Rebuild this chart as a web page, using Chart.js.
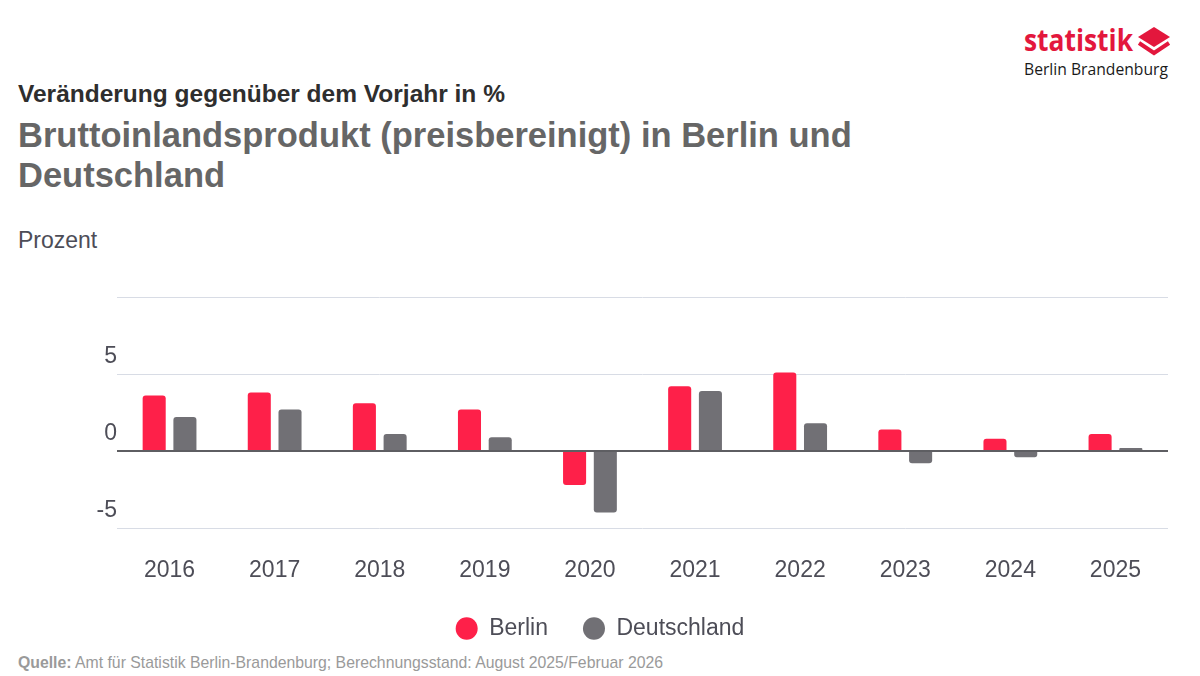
<!DOCTYPE html>
<html lang="de">
<head>
<meta charset="utf-8">
<script src="https://cdn.jsdelivr.net/npm/chart.js@4.4.1/dist/chart.umd.min.js"></script>
<style>
  html, body { margin: 0; padding: 0; background: #fff; overflow: hidden; }
  body { width: 1200px; height: 676px; position: relative; font-family: "Liberation Sans", Arial, sans-serif; }
  .txt { position: absolute; left: 18px; white-space: nowrap; }
  #unter { top: 82px; font-size: 24.5px; line-height: 24px; font-weight: bold; color: #2e2e2e; }
  #titel { top: 115px; font-size: 34.5px; line-height: 40px; font-weight: bold; color: #666666; }
  #prozent { top: 229px; font-size: 23px; line-height: 22px; color: #4d4d57; }
  #quelle { top: 654px; font-size: 17px; line-height: 17px; color: #9a9a9a; transform-origin: 0 0; }
  #logo { position: absolute; left: 1024px; top: 23px; width: 150px; }
  #logo .stat { font-family: "Open Sans", sans-serif; font-weight: bold; font-size: 30px; line-height: 34px; color: #e3173d; transform-origin: 0 0; white-space: nowrap; display: inline-block; }
  #logo .bb { font-family: "Open Sans", sans-serif; font-size: 17px; line-height: 20px; color: #1a1a1a; margin-top: 2px; transform-origin: 0 0; white-space: nowrap; display: inline-block; }
  #logo svg { position: absolute; left: 113px; top: 4px; }
  #wrap { position: absolute; left: 0; top: 280px; width: 1200px; height: 370px; }
</style>
</head>
<body>
<div id="logo">
  <div class="stat" id="stat">statistik</div><br>
  <div class="bb" id="bb">Berlin Brandenburg</div>
  <svg width="34" height="30" viewBox="0 0 34 30">
    <polygon points="17,0 33,10 17,20 1,10" fill="#e3173d"/>
    <polyline points="2,16 17,26 32,16" fill="none" stroke="#e3173d" stroke-width="4"/>
  </svg>
</div>
<div class="txt" id="unter">Veränderung gegenüber dem Vorjahr in %</div>
<div class="txt" id="titel">Bruttoinlandsprodukt (preisbereinigt) in Berlin und<br>Deutschland</div>
<div class="txt" id="prozent">Prozent</div>
<div class="txt" id="quelle"><b>Quelle:</b> Amt für Statistik Berlin-Brandenburg; Berechnungsstand: August 2025/Februar 2026</div>
<div id="wrap"><canvas id="grafico"></canvas></div>

<script>
  // Werte
  let jahre = ['2016', '2017', '2018', '2019', '2020', '2021', '2022', '2023', '2024', '2025'];
  let berlin = [3.6, 3.8, 3.1, 2.7, -2.2, 4.2, 5.1, 1.4, 0.8, 1.1];
  let deutschland = [2.2, 2.7, 1.1, 0.9, -4.0, 3.9, 1.8, -0.8, -0.4, 0.2];
  let yTicks = [-5, 0, 5, 10];

  var fonte = "'Liberation Sans', Arial, sans-serif";

  // Texte auf Breite bringen
  function aufBreite(id, breite) {
    var el = document.getElementById(id);
    var w = el.getBoundingClientRect().width;
    el.style.transform = 'scaleX(' + (breite / w) + ')';
  }
  aufBreite('quelle', 645);
  aufBreite('stat', 109);
  aufBreite('bb', 144);

  var ctx = document.getElementById('grafico').getContext('2d');
  var grafico = new Chart(ctx, {
    type: 'bar',
    data: {
      labels: jahre,
      datasets: [{
        label: 'Berlin',
        data: berlin,
        backgroundColor: '#fe2049',
        borderRadius: 3
      }, {
        label: 'Deutschland',
        data: deutschland,
        backgroundColor: '#717075',
        borderRadius: 3
      }]
    },
    options: {
      responsive: true,
      maintainAspectRatio: false,
      animation: false,
      categoryPercentage: 0.585,
      barPercentage: 0.75,
      layout: { padding: { top: 17, left: 32, right: 32, bottom: 0 } },
      scales: {
        x: {
          grid: { display: false, drawTicks: false },
          border: { display: false },
          ticks: {
            padding: 29,
            color: '#4d4d57',
            font: { family: fonte, size: 23 }
          },
          afterFit: function (scale) { scale.height = 54; }
        },
        y: {
          min: yTicks[0],
          max: yTicks[yTicks.length - 1],
          border: { display: false },
          grid: {
            drawTicks: false,
            color: function (c) { return c.tick && c.tick.value === 0 ? '#5e5e62' : '#d8dce5'; },
            lineWidth: function (c) { return c.tick && c.tick.value === 0 ? 2 : 1; }
          },
          ticks: {
            stepSize: 5,
            padding: 0,
            labelOffset: -17,
            color: '#4d4d57',
            font: { family: fonte, size: 23 },
            callback: function (v) { return v === 10 ? '' : v; }
          },
          afterFit: function (scale) { scale.width = 85; }
        }
      },
      plugins: {
        legend: {
          position: 'bottom',
          labels: {
            usePointStyle: true,
            pointStyle: 'circle',
            boxWidth: 16,
            boxHeight: 16,
            pointStyleWidth: 22,
            padding: 35,
            color: '#4d4d57',
            font: { family: fonte, size: 23 }
          }
        },
        tooltip: { enabled: false }
      }
    }
  });
</script>
</body>
</html>
